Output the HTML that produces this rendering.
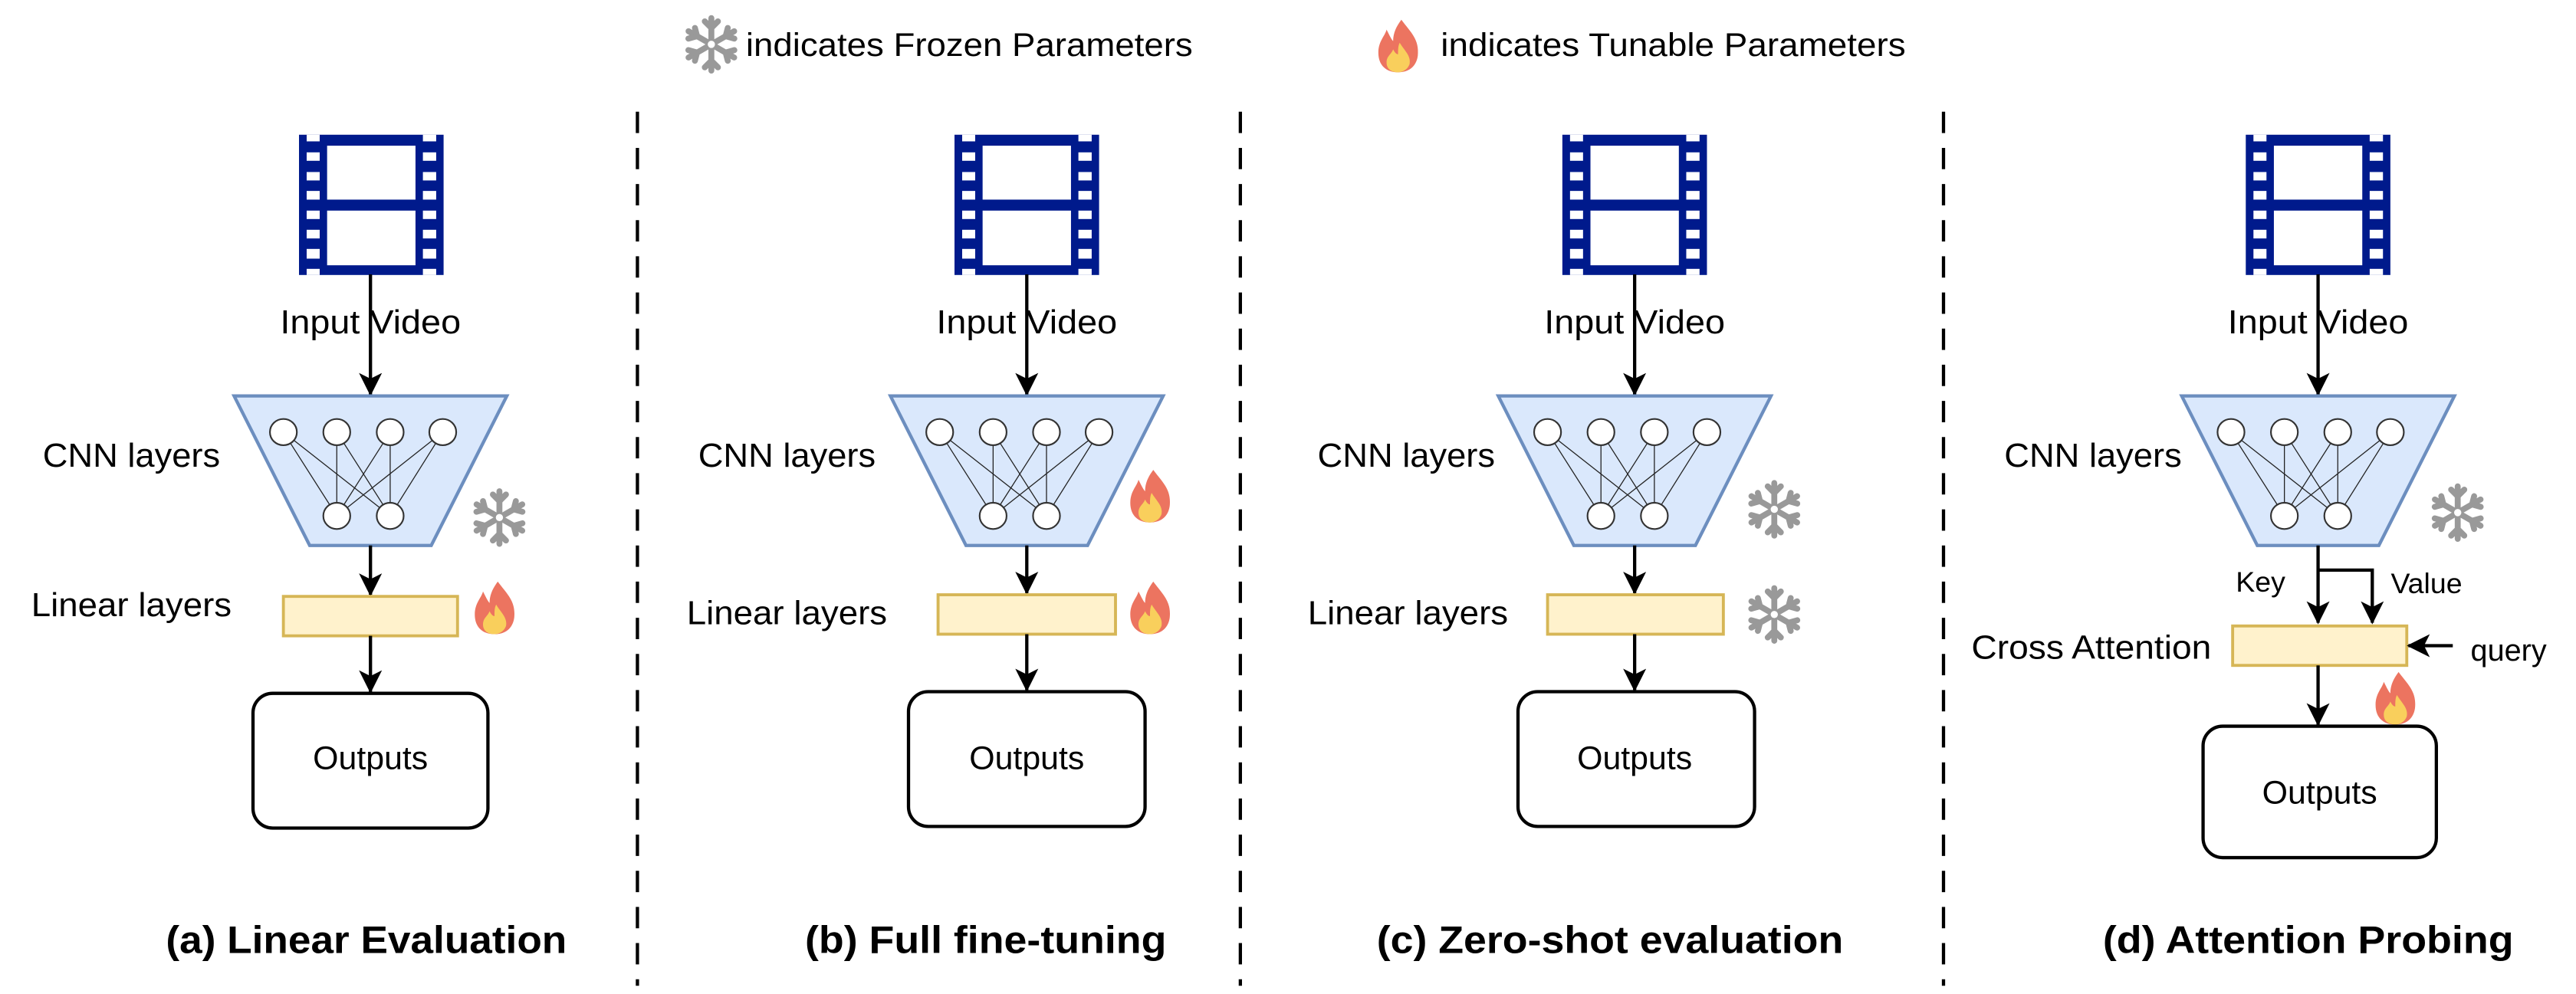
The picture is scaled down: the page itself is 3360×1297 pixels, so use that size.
<!DOCTYPE html>
<html><head><meta charset="utf-8"><style>
html,body{margin:0;padding:0;background:#fff;}
svg{display:block;}
text{font-family:"Liberation Sans",Arial,sans-serif;fill:#000;}
</style></head><body>
<svg width="3360" height="1297" viewBox="0 0 1568 605" preserveAspectRatio="none" xmlns="http://www.w3.org/2000/svg">
<defs>
<g id="film">
 <g transform="scale(0.1555)">
  <rect x="0" y="0" width="566" height="549" fill="#001A8C"/>
  <rect x="30" y="0" width="51" height="26" fill="#fff"/>
  <rect x="485" y="0" width="52" height="26" fill="#fff"/>
  <rect x="30" y="525" width="51" height="24" fill="#fff"/>
  <rect x="485" y="525" width="52" height="24" fill="#fff"/>
  <g fill="#fff">
   <rect x="30" y="69" width="51" height="33"/><rect x="30" y="146" width="51" height="33"/><rect x="30" y="220" width="51" height="34"/>
   <rect x="30" y="297" width="51" height="33"/><rect x="30" y="372" width="51" height="34"/><rect x="30" y="447" width="51" height="38"/>
   <rect x="485" y="69" width="52" height="33"/><rect x="485" y="146" width="52" height="33"/><rect x="485" y="220" width="52" height="34"/>
   <rect x="485" y="297" width="52" height="33"/><rect x="485" y="372" width="52" height="34"/><rect x="485" y="447" width="52" height="38"/>
   <rect x="110" y="43" width="346" height="211"/>
   <rect x="110" y="297" width="346" height="214"/>
  </g>
 </g>
</g>
<g id="snow" stroke="#999" stroke-width="3.6" stroke-linecap="round" fill="none">
 <line x1="0" y1="-16" x2="0" y2="16"/>
 <line x1="-13.9" y1="-8" x2="13.9" y2="8"/>
 <line x1="-13.9" y1="8" x2="13.9" y2="-8"/>
 <polyline points="-4,-14 0,-10 4,-14"/><polyline points="-4,14 0,10 4,14"/>
 <polyline points="-14,-3.5 -8.7,-5 -10,-10"/><polyline points="14,3.5 8.7,5 10,10"/>
 <polyline points="-14,3.5 -8.7,5 -10,10"/><polyline points="14,-3.5 8.7,-5 10,-10"/>
 <circle cx="0" cy="0" r="2.2" fill="#fff" stroke="none"/>
</g>
<g id="fire">
 <path d="M2,-16 C8,-8 13,-4 12,6 C11,13 6,16 0,16 C-7,16 -12,12 -12,4 C-12,-3 -8,-6 -7,-10 C-5,-6 -4,-4 -3,-3 C-3,-8 -1,-12 2,-16Z" fill="#EC7460"/>
 <path d="M1,-2 C4,3 8,6 7,11 C6,14 3,16 0,16 C-4,16 -7,14 -7,10 C-7,6 -4,5 -3,2 C-2,4 -1,5 0,5 C0,2 0,0 1,-2Z" fill="#F9CF5C"/>
</g>
<marker id="ah" viewBox="0 0 14 14" refX="13" refY="7" markerWidth="14" markerHeight="14" markerUnits="userSpaceOnUse" orient="auto">
 <path d="M0,0 L14,7 L0,14 L3.5,7Z" fill="#000"/>
</marker>
<g id="cnn">
 <polygon points="-83,0 83,0 37,91 -37,91" fill="#DAE8FC" stroke="#6C8EBF" stroke-width="2"/>
 <g stroke="#222" stroke-width="0.6">
  <line x1="-53" y1="22" x2="-20.5" y2="73"/><line x1="-53" y1="22" x2="12" y2="73"/>
  <line x1="-20.5" y1="22" x2="-20.5" y2="73"/><line x1="-20.5" y1="22" x2="12" y2="73"/>
  <line x1="12" y1="22" x2="-20.5" y2="73"/><line x1="12" y1="22" x2="12" y2="73"/>
  <line x1="44" y1="22" x2="-20.5" y2="73"/><line x1="44" y1="22" x2="12" y2="73"/>
 </g>
 <g fill="#fff" stroke="#333" stroke-width="1">
  <ellipse cx="-53" cy="22" rx="8.2" ry="8"/><ellipse cx="-20.5" cy="22" rx="8.2" ry="8"/>
  <ellipse cx="12" cy="22" rx="8.2" ry="8"/><ellipse cx="44" cy="22" rx="8.2" ry="8"/>
  <ellipse cx="-20.5" cy="73" rx="8.2" ry="8"/><ellipse cx="12" cy="73" rx="8.2" ry="8"/>
 </g>
</g>
</defs>

<!-- header -->
<use href="#snow" x="433" y="27"/>
<text x="454" y="34" font-size="20" textLength="272" lengthAdjust="spacingAndGlyphs">indicates Frozen Parameters</text>
<use href="#fire" x="851" y="28"/>
<text x="877" y="34" font-size="20" textLength="283" lengthAdjust="spacingAndGlyphs">indicates Tunable Parameters</text>

<!-- dashed separators -->
<g stroke="#000" stroke-width="2" stroke-dasharray="13,9">
 <line x1="388" y1="68" x2="388" y2="600"/>
 <line x1="755" y1="68" x2="755" y2="600"/>
 <line x1="1183" y1="68" x2="1183" y2="600"/>
</g>

<!-- Panel a -->
<use href="#film" x="182" y="82"/>
<line x1="225.5" y1="167" x2="225.5" y2="240" stroke="#000" stroke-width="2" marker-end="url(#ah)"/>
<text x="225.5" y="203" font-size="20.5" text-anchor="middle" textLength="110" lengthAdjust="spacingAndGlyphs">Input Video</text>
<use href="#cnn" x="225.5" y="241"/>
<text x="80" y="284" font-size="20.5" text-anchor="middle" textLength="108" lengthAdjust="spacingAndGlyphs">CNN layers</text>
<use href="#snow" x="304" y="315"/>
<line x1="225.5" y1="332" x2="225.5" y2="362" stroke="#000" stroke-width="2" marker-end="url(#ah)"/>
<rect x="172.5" y="363" width="106" height="24" fill="#FFF2CC" stroke="#D6B656" stroke-width="1.8"/>
<text x="80" y="375" font-size="20.5" text-anchor="middle" textLength="122" lengthAdjust="spacingAndGlyphs">Linear layers</text>
<use href="#fire" x="301" y="370"/>
<line x1="225.5" y1="387" x2="225.5" y2="421" stroke="#000" stroke-width="2" marker-end="url(#ah)"/>
<rect x="154" y="422" width="143" height="82" rx="12" fill="#fff" stroke="#000" stroke-width="2"/>
<text x="225.5" y="468" font-size="20" text-anchor="middle">Outputs</text>
<text x="223" y="580" font-size="23.5" font-weight="bold" text-anchor="middle" textLength="244" lengthAdjust="spacingAndGlyphs">(a) Linear Evaluation</text>

<!-- Panel b -->
<use href="#film" x="581" y="82"/>
<line x1="625" y1="167" x2="625" y2="240" stroke="#000" stroke-width="2" marker-end="url(#ah)"/>
<text x="625" y="203" font-size="20.5" text-anchor="middle" textLength="110" lengthAdjust="spacingAndGlyphs">Input Video</text>
<use href="#cnn" x="625" y="241"/>
<text x="479" y="284" font-size="20.5" text-anchor="middle" textLength="108" lengthAdjust="spacingAndGlyphs">CNN layers</text>
<use href="#fire" x="700" y="302"/>
<line x1="625" y1="332" x2="625" y2="361" stroke="#000" stroke-width="2" marker-end="url(#ah)"/>
<rect x="571" y="362" width="108" height="24" fill="#FFF2CC" stroke="#D6B656" stroke-width="1.8"/>
<text x="479" y="380" font-size="20.5" text-anchor="middle" textLength="122" lengthAdjust="spacingAndGlyphs">Linear layers</text>
<use href="#fire" x="700" y="370"/>
<line x1="625" y1="386" x2="625" y2="420" stroke="#000" stroke-width="2" marker-end="url(#ah)"/>
<rect x="553" y="421" width="144" height="82" rx="12" fill="#fff" stroke="#000" stroke-width="2"/>
<text x="625" y="468" font-size="20" text-anchor="middle">Outputs</text>
<text x="600" y="580" font-size="23.5" font-weight="bold" text-anchor="middle" textLength="220" lengthAdjust="spacingAndGlyphs">(b) Full fine-tuning</text>

<!-- Panel c -->
<use href="#film" x="951" y="82"/>
<line x1="995" y1="167" x2="995" y2="240" stroke="#000" stroke-width="2" marker-end="url(#ah)"/>
<text x="995" y="203" font-size="20.5" text-anchor="middle" textLength="110" lengthAdjust="spacingAndGlyphs">Input Video</text>
<use href="#cnn" x="995" y="241"/>
<text x="856" y="284" font-size="20.5" text-anchor="middle" textLength="108" lengthAdjust="spacingAndGlyphs">CNN layers</text>
<use href="#snow" x="1080" y="310"/>
<line x1="995" y1="332" x2="995" y2="361" stroke="#000" stroke-width="2" marker-end="url(#ah)"/>
<rect x="942" y="362" width="107" height="24" fill="#FFF2CC" stroke="#D6B656" stroke-width="1.8"/>
<text x="857" y="380" font-size="20.5" text-anchor="middle" textLength="122" lengthAdjust="spacingAndGlyphs">Linear layers</text>
<use href="#snow" x="1080" y="374"/>
<line x1="995" y1="386" x2="995" y2="420" stroke="#000" stroke-width="2" marker-end="url(#ah)"/>
<rect x="924" y="421" width="144" height="82" rx="12" fill="#fff" stroke="#000" stroke-width="2"/>
<text x="995" y="468" font-size="20" text-anchor="middle">Outputs</text>
<text x="980" y="580" font-size="23.5" font-weight="bold" text-anchor="middle" textLength="284" lengthAdjust="spacingAndGlyphs">(c) Zero-shot evaluation</text>

<!-- Panel d -->
<use href="#film" x="1367" y="82"/>
<line x1="1411" y1="167" x2="1411" y2="240" stroke="#000" stroke-width="2" marker-end="url(#ah)"/>
<text x="1411" y="203" font-size="20.5" text-anchor="middle" textLength="110" lengthAdjust="spacingAndGlyphs">Input Video</text>
<use href="#cnn" x="1411" y="241"/>
<text x="1274" y="284" font-size="20.5" text-anchor="middle" textLength="108" lengthAdjust="spacingAndGlyphs">CNN layers</text>
<use href="#snow" x="1496" y="312"/>
<line x1="1411" y1="332" x2="1411" y2="379" stroke="#000" stroke-width="2" marker-end="url(#ah)"/>
<polyline points="1411,347 1444,347 1444,379" fill="none" stroke="#000" stroke-width="2" marker-end="url(#ah)"/>
<text x="1376" y="360" font-size="17.5" text-anchor="middle">Key</text>
<text x="1477" y="361" font-size="17.5" text-anchor="middle">Value</text>
<rect x="1359" y="381" width="106" height="24" fill="#FFF2CC" stroke="#D6B656" stroke-width="1.8"/>
<text x="1273" y="401" font-size="20.5" text-anchor="middle" textLength="146" lengthAdjust="spacingAndGlyphs">Cross Attention</text>
<line x1="1493" y1="393" x2="1466" y2="393" stroke="#000" stroke-width="2" marker-end="url(#ah)"/>
<text x="1527" y="402" font-size="18.5" text-anchor="middle">query</text>
<use href="#fire" x="1458" y="425"/>
<line x1="1411" y1="405" x2="1411" y2="441" stroke="#000" stroke-width="2" marker-end="url(#ah)"/>
<rect x="1341" y="442" width="142" height="80" rx="12" fill="#fff" stroke="#000" stroke-width="2"/>
<text x="1412" y="489" font-size="20" text-anchor="middle">Outputs</text>
<text x="1405" y="580" font-size="23.5" font-weight="bold" text-anchor="middle" textLength="250" lengthAdjust="spacingAndGlyphs">(d) Attention Probing</text>
</svg>
</body></html>
